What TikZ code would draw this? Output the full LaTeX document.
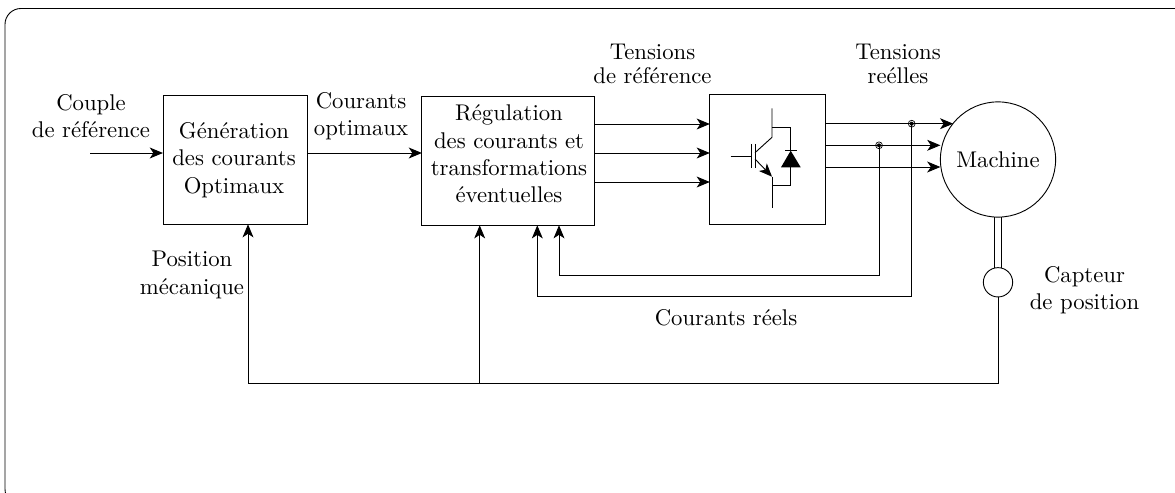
\documentclass[tikz,border=0pt]{standalone}
\usepackage{amsmath}
\usetikzlibrary{arrows.meta, calc}

\tikzset{
  bloc/.style={draw,inner sep=0pt,outer sep=0pt,align=center},
  rond/.style={draw,circle,inner sep=0pt,outer sep=0pt},
  texte/.style={align=center,inner sep=0pt},
  fleche/.style={-{Stealth[length=5.8pt,width=4.8pt,inset=1.6pt]}},
  jonction/.style={draw,circle,inner sep=0pt,minimum size=3pt,line width=0.3pt},
}

\begin{document}
\begin{tikzpicture}
  [x=0.44pt,y=-0.44pt]
  \clip (0,0) rectangle (1175,493);
  % cadre
  \draw[rounded corners=7pt] (5,8.5) rectangle (1220,505);
  % blocs
  \node[bloc,minimum width=63.4pt,minimum height=56.8pt] (gen) at (235,159.7) {};
  \node[texte] (gentxt) at (234,160)
    {G\'en\'eration\\des courants\\Optimaux};
  \node[bloc,minimum width=76.1pt,minimum height=56.8pt] (regul) at (508.4,160.7) {};
  \node[texte] (regultxt) at (509,154)
    {R\'egulation\\des courants et\\transformations\\\'eventuelles};
  \node[bloc,minimum width=51pt,minimum height=57pt] (ondul) at (767.8,159.5) {};
  \node[rond,minimum size=50.7pt] (machine) at (998,159.5) {Machine};
  \node[rond,minimum size=12.9pt] (capteur) at (998,282.3) {};
  % textes
  \node[texte] (couple) at (91,116) {Couple\\de r\'ef\'erence};
  \node[texte] (optim) at (361,116) {Courants\\optimaux};
  \node[texte] (tref) at (652.5,64) {Tensions\\[-1.5pt]de r\'ef\'erence};
  \node[texte] (treel) at (898,64) {Tensions\\[-1.5pt]re\'elles};
  \node[texte] (posit) at (192,275) {Position\\m\'ecanique};
  \node[texte] (capt) at (1084.5,290.5) {Capteur\\de position};
  \node[texte] (creel) at (726,318) {Courants r\'eels};
  % liaisons entree
  \coordinate (entree) at (90,153);
  \draw[fleche] (entree) -- (entree -| gen.west);
  \coordinate (sgen) at (gen.east |- entree);
  \draw[fleche] (sgen) -- (sgen -| regul.west);
  \foreach \y in {124,153,182} {
      \coordinate (sreg) at (regul.east |- 0,\y);
      \draw[fleche] (sreg) -- (sreg -| ondul.west);
  }
  % sorties onduleur
  \coordinate (s1) at (ondul.east |- 0,123.7);
  \coordinate (s2) at (ondul.east |- 0,145.3);
  \coordinate (s3) at (ondul.east |- 0,167);
  \draw[fleche] (s1) -- (s1 -| machine.141.6);
  \draw[fleche] (s2) -- (s2 -| machine.west);
  \draw[fleche] (s3) -- (s3 -| machine.west);
  % mesures
  \coordinate (j1) at (911.7,123.7);
  \coordinate (j2) at (879,145.3);
  \coordinate (r1) at (537.3,296.7);
  \coordinate (r2) at (559,275);
  \draw[fleche] (j1) |- (r1) -- (r1 |- regul.south);
  \draw[fleche] (j2) |- (r2) -- (r2 |- regul.south);
  \foreach \j in {j1,j2} {
      \node[jonction] (n\j) at (\j) {};
      \fill (\j) circle (2);
  }
  % capteur
  \draw ($(machine.south)+(-3.5,0)$) -- ($(capteur.north)+(-3.5,0)$);
  \draw ($(machine.south)+(3.5,0)$) -- ($(capteur.north)+(3.5,0)$);
  \coordinate (ret) at (248,383);
  \coordinate (branche) at (479.7,383);
  \draw[fleche] (capteur.south) |- (ret) -- (ret |- gen.south);
  \draw[fleche] (branche) -- (branche |- regul.south);
  % igbt
  \coordinate (c) at (772,137.3);
  \coordinate (e) at (772,176.7);
  \coordinate (b) at (755,152.7);
  \coordinate (b2) at (755,159);
  \draw (772,108.3) -- (c) -- (b);
  \draw (755,144) -- (755,168);
  \draw (751.7,144) -- (751.7,168);
  \draw (730.7,156.3) -- (751.7,156.3);
  \draw[fleche] (b2) -- (e);
  \draw (e) -- (772,207.7);
  % diode
  \draw (772,127.7) -| (790.7,150.7);
  \draw (785,150.7) -- (796.7,150.7);
  \fill (790.7,150.7) -- (781,167.3) -- (800.7,167.3) -- cycle;
  \draw (790.7,167.3) |- (772,185);
\end{tikzpicture}
\end{document}
